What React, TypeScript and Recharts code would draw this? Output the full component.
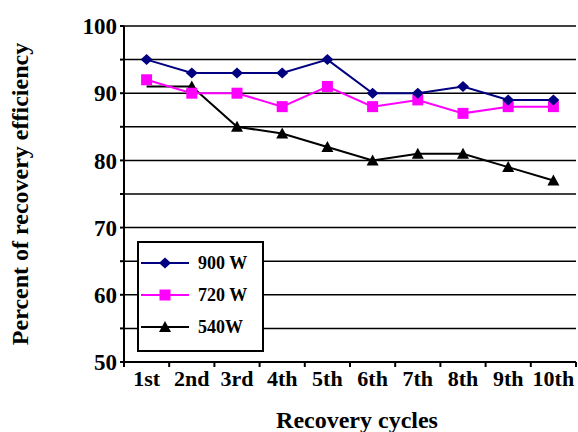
import React from 'react';
import { LineChart, Line, XAxis, YAxis, CartesianGrid, Legend } from 'recharts';

const cycles = ['1st', '2nd', '3rd', '4th', '5th', '6th', '7th', '8th', '9th', '10th'];
const w900 = [95, 93, 93, 93, 95, 90, 90, 91, 89, 89];
const w720 = [92, 90, 90, 88, 91, 88, 89, 87, 88, 88];
const w540 = [91, 91, 85, 84, 82, 80, 81, 81, 79, 77];
const yTicks = [50, 55, 60, 65, 70, 75, 80, 85, 90, 95, 100];

const FONT = '"Liberation Serif", "Times New Roman", serif';

// x is numeric so that tick marks can sit between the cycles
const data = cycles.map((c, i) => ({
  pos: i + 1,
  cycle: c,
  w900: w900[i],
  w720: w720[i],
  w540: w540[i],
}));
const xTicks: number[] = [0.5];
cycles.forEach((_, i) => {
  xTicks.push(i + 1, i + 1.5);
});

const series = [
  { key: 'w900', name: '900 W', color: '#000080', shape: 'diamond' },
  { key: 'w720', name: '720 W', color: '#ff00ff', shape: 'square' },
  { key: 'w540', name: '540W', color: '#000000', shape: 'triangle' },
];

const Marker = ({ shape, cx, cy, color }: any) => {
  if (shape === 'diamond') {
    return (
      <polygon
        points={`${cx},${cy - 5.5} ${cx + 6},${cy} ${cx},${cy + 5.5} ${cx - 6},${cy}`}
        fill={color}
      />
    );
  }
  if (shape === 'square') {
    return <rect x={cx - 5.5} y={cy - 5.5} width={11} height={11} fill={color} />;
  }
  return (
    <polygon
      points={`${cx},${cy - 6} ${cx + 6},${cy + 5} ${cx - 6},${cy + 5}`}
      fill={color}
    />
  );
};

const X_TICK_SIZE = 5;
const X_TICK_MARGIN = 4;

const CycleTick = ({ x, y, payload }: any) => {
  const v = payload.value;
  const axisY = y - X_TICK_SIZE - X_TICK_MARGIN;
  if (Number.isInteger(v)) {
    return (
      <text
        x={x}
        y={axisY + 24}
        textAnchor="middle"
        fontFamily={FONT}
        fontWeight="bold"
        fontSize={22}
        fill="#000"
      >
        {cycles[v - 1]}
      </text>
    );
  }
  return (
    <line x1={x} x2={x} y1={axisY} y2={axisY + X_TICK_SIZE} stroke="#000" strokeWidth={2} />
  );
};

const YTitle = ({ viewBox }: any) => {
  const x = viewBox.x + 22;
  const y = viewBox.y + viewBox.height / 2;
  return (
    <text
      x={x}
      y={y}
      transform={`rotate(-90 ${x} ${y})`}
      textAnchor="middle"
      fontFamily={FONT}
      fontWeight="bold"
      fontSize={24}
      fill="#000"
    >
      Percent of recovery efficiency
    </text>
  );
};

const LegendBox = () => (
  <div
    style={{
      width: 127,
      height: 111,
      border: '2px solid #000',
      boxSizing: 'border-box',
      background: '#fff',
    }}
  >
    <svg width={123} height={107}>
      {series.map((s, i) => {
        const y = 20 + i * 32;
        return (
          <g key={s.key}>
            <line x1={2} x2={50} y1={y} y2={y} stroke={s.color} strokeWidth={2} />
            <Marker shape={s.shape} cx={26} cy={y} color={s.color} />
            <text
              x={59}
              y={y + 6}
              fontFamily={FONT}
              fontWeight="bold"
              fontSize={18}
              fill="#000"
            >
              {s.name}
            </text>
          </g>
        );
      })}
    </svg>
  </div>
);

export default function App() {
  // black series first so the squares sit over it at the first cycle
  const drawOrder = [series[2], series[1], series[0]];
  return (
    <div style={{ position: 'absolute', left: 0, top: 0, width: 578, height: 432, background: '#fff' }}>
      <LineChart
        width={578}
        height={432}
        data={data}
        margin={{ top: 26, right: 2, bottom: 0, left: 6 }}
      >
        <CartesianGrid
          horizontal
          vertical={false}
          stroke="#000"
          strokeWidth={1.5}
          horizontalValues={yTicks}
        />
        <XAxis
          dataKey="pos"
          type="number"
          domain={[0.5, 10.5]}
          ticks={xTicks}
          interval={0}
          height={70}
          tickSize={X_TICK_SIZE}
          tickMargin={X_TICK_MARGIN}
          tickLine={false}
          tick={<CycleTick />}
          axisLine={{ stroke: '#000', strokeWidth: 2 }}
          label={{
            value: 'Recovery cycles',
            position: 'insideBottom',
            offset: 4,
            dx: 7,
            fill: '#000',
            fontFamily: FONT,
            fontWeight: 'bold',
            fontSize: 24,
          }}
        />
        <YAxis
          domain={[50, 100]}
          ticks={yTicks}
          interval={0}
          width={118}
          tickSize={4}
          tickMargin={3}
          tickFormatter={(v: number) => (v % 10 === 0 ? String(v) : '')}
          tick={{ fill: '#000', fontFamily: FONT, fontWeight: 'bold', fontSize: 23 }}
          tickLine={{ stroke: '#000', strokeWidth: 2 }}
          axisLine={{ stroke: '#000', strokeWidth: 2 }}
          label={<YTitle />}
        />
        <YAxis
          yAxisId="border"
          orientation="right"
          domain={[50, 100]}
          width={0}
          tick={false}
          tickLine={false}
          axisLine={{ stroke: '#000', strokeWidth: 2 }}
        />
        {drawOrder.map((s) => (
          <Line
            key={s.key}
            dataKey={s.key}
            name={s.name}
            stroke={s.color}
            strokeWidth={2}
            isAnimationActive={false}
            dot={(p: any) =>
              s.key === 'w540' && p.index === 0 ? (
                <g key={`${s.key}-${p.index}`} />
              ) : (
                <Marker key={`${s.key}-${p.index}`} shape={s.shape} cx={p.cx} cy={p.cy} color={s.color} />
              )
            }
          />
        ))}
        <Legend
          layout="vertical"
          align="center"
          verticalAlign="middle"
          content={<LegendBox />}
          wrapperStyle={{ position: 'absolute', left: 137, top: 241, width: 127, height: 111 }}
        />
      </LineChart>
    </div>
  );
}
